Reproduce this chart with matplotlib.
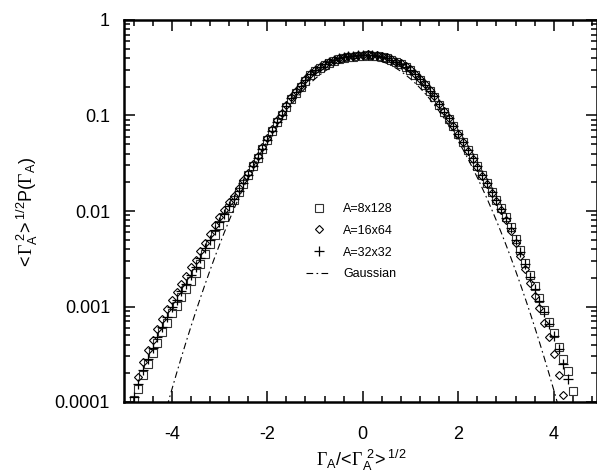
import numpy as np
import matplotlib
matplotlib.use('agg')
import matplotlib.pyplot as plt
from matplotlib.ticker import LogLocator, MultipleLocator, FixedLocator, FixedFormatter

plt.rcParams['font.family'] = 'Liberation Sans'
plt.rcParams['axes.unicode_minus'] = False
plt.rcParams['mathtext.fontset'] = 'custom'
plt.rcParams['mathtext.rm'] = 'Liberation Sans'
plt.rcParams['mathtext.it'] = 'Liberation Sans:italic'
plt.rcParams['mathtext.sf'] = 'Liberation Serif'

# bin centres of the histograms
gamma = np.round(np.arange(-4.8, 4.45, 0.1), 1)

# log10 of the normalised distribution
logp_8x128 = [
    -3.98, -3.86, -3.72, -3.60, -3.49, -3.38, -3.27, -3.17, -3.07, -2.99,
    -2.90, -2.82, -2.73, -2.65, -2.55, -2.45, -2.35, -2.25, -2.15, -2.06,
    -1.97, -1.89, -1.80, -1.72, -1.62, -1.53, -1.44, -1.35, -1.26, -1.16,
    -1.07, -0.99, -0.91, -0.83, -0.76, -0.70, -0.64, -0.58, -0.53, -0.50,
    -0.47, -0.45, -0.43, -0.41, -0.40, -0.39, -0.383, -0.376, -0.372, -0.37,
    -0.373, -0.38, -0.39, -0.40, -0.42, -0.445, -0.465, -0.495, -0.525, -0.575,
    -0.625, -0.685, -0.745, -0.805, -0.885, -0.96, -1.035, -1.11, -1.19, -1.28,
    -1.36, -1.45, -1.53, -1.62, -1.71, -1.80, -1.88, -1.97, -2.06, -2.17,
    -2.29, -2.41, -2.54, -2.67, -2.79, -2.91, -3.04, -3.16, -3.28, -3.42,
    -3.55, -3.68, -3.88]

logp_16x64 = [
    np.nan, -3.74, -3.58, -3.46, -3.35, -3.24, -3.13, -3.03, -2.93, -2.85,
    -2.76, -2.68, -2.59, -2.51, -2.42, -2.33, -2.24, -2.15, -2.06, -1.99,
    -1.91, -1.84, -1.76, -1.68, -1.60, -1.51, -1.42, -1.33, -1.24, -1.14,
    -1.05, -0.97, -0.89, -0.81, -0.74, -0.68, -0.62, -0.57, -0.52, -0.49,
    -0.46, -0.44, -0.42, -0.40, -0.39, -0.38, -0.372, -0.366, -0.362, -0.36,
    -0.363, -0.37, -0.38, -0.39, -0.41, -0.435, -0.455, -0.485, -0.515, -0.565,
    -0.615, -0.675, -0.735, -0.795, -0.875, -0.955, -1.03, -1.11, -1.19, -1.28,
    -1.37, -1.46, -1.54, -1.63, -1.72, -1.81, -1.90, -1.99, -2.09, -2.21,
    -2.34, -2.47, -2.61, -2.75, -2.89, -3.02, -3.17, -3.32, -3.50, -3.72,
    -3.93, np.nan, np.nan]

logp_32x32 = [
    -3.95, -3.81, -3.67, -3.55, -3.43, -3.32, -3.21, -3.11, -3.01, -2.93,
    -2.84, -2.76, -2.67, -2.59, -2.49, -2.39, -2.30, -2.20, -2.11, -2.03,
    -1.95, -1.87, -1.79, -1.71, -1.62, -1.53, -1.44, -1.35, -1.26, -1.16,
    -1.07, -0.99, -0.90, -0.82, -0.75, -0.69, -0.63, -0.57, -0.52, -0.49,
    -0.46, -0.44, -0.42, -0.40, -0.39, -0.38, -0.376, -0.37, -0.366, -0.365,
    -0.368, -0.374, -0.383, -0.395, -0.415, -0.44, -0.46, -0.49, -0.52, -0.57,
    -0.62, -0.68, -0.74, -0.80, -0.88, -0.96, -1.03, -1.11, -1.19, -1.28,
    -1.36, -1.45, -1.53, -1.62, -1.71, -1.80, -1.89, -1.98, -2.07, -2.18,
    -2.30, -2.43, -2.56, -2.69, -2.82, -2.94, -3.06, -3.18, -3.31, -3.45,
    -3.60, -3.76, np.nan]

# unit gaussian, tabulated for x >= 0
gx_half = [0.0, 0.1, 0.2, 0.3, 0.4, 0.5, 0.6, 0.7, 0.8, 0.9, 1.0, 1.1, 1.2, 1.3,
           1.4, 1.5, 1.6, 1.7, 1.8, 1.9, 2.0, 2.1, 2.2, 2.3, 2.4, 2.5, 2.6, 2.7,
           2.8, 2.9, 3.0, 3.1, 3.2, 3.3, 3.4, 3.5, 3.6, 3.7, 3.8, 3.9, 4.0, 4.1]
gy_half = [0.3989, 0.3970, 0.3910, 0.3814, 0.3683, 0.3521, 0.3332, 0.3123,
           0.2897, 0.2661, 0.2420, 0.2179, 0.1942, 0.1714, 0.1497, 0.1295,
           0.1109, 0.0940, 0.0790, 0.0656, 0.0540, 0.0440, 0.0355, 0.0283,
           0.0224, 0.0175, 0.0136, 0.0104, 0.00792, 0.00595, 0.00443, 0.00327,
           0.00238, 0.00172, 0.00123, 0.000873, 0.000612, 0.000425, 0.000292,
           0.000199, 0.000134, 0.0000893]

labels = ['A=8x128', 'A=16x64', 'A=32x32', 'Gaussian']

gauss_x = np.concatenate((-np.array(gx_half[::-1]), np.array(gx_half[1:])))
gauss_y = np.concatenate((np.array(gy_half[::-1]), np.array(gy_half[1:])))

fig = plt.figure(figsize=(5.97, 4.74), dpi=100)
ax = fig.add_axes([124 / 597, 72 / 474, 472.7 / 597, 382 / 474])

ax.plot(gamma, 10 ** np.array(logp_8x128), ls='none', marker='s', ms=6,
        mfc='none', mec='#333333', mew=0.8, label=labels[0])
ax.plot(gamma, 10 ** np.array(logp_16x64), ls='none', marker='D', ms=4.2,
        mfc='none', mec='k', mew=0.8, label=labels[1])
ax.plot(gamma, 10 ** np.array(logp_32x32), ls='none', marker='+', ms=7,
        mec='k', mew=0.9, label=labels[2])
ax.plot(gauss_x, gauss_y, color='k', lw=0.8, dashes=(6, 3, 1.5, 3),
        label=labels[3])

ax.set_yscale('log')
ax.set_xlim(-5, 4.9)
ax.set_ylim(1e-4, 1)

ax.xaxis.set_major_locator(MultipleLocator(2))
ax.xaxis.set_minor_locator(MultipleLocator(0.4))
ax.yaxis.set_major_locator(FixedLocator([1e-4, 1e-3, 1e-2, 1e-1, 1]))
ax.yaxis.set_major_formatter(FixedFormatter(['0.0001', '0.001', '0.01', '0.1', '1']))
ax.yaxis.set_minor_locator(LogLocator(base=10, subs=np.arange(2, 10)))

ax.tick_params(which='both', direction='in', top=True, right=True, width=1.1,
               labelsize=13)
ax.tick_params(which='major', length=8)
ax.tick_params(which='minor', length=4)
ax.tick_params(axis='x', pad=17)
ax.tick_params(axis='y', pad=10)
for sp in ax.spines.values():
    sp.set_linewidth(1.8)

ax.set_xlabel(r'$\mathsf{\Gamma}_{\rm A}/\!<\!\mathsf{\Gamma}_{\rm A}^{\ 2}\!>^{1/2}$',
              fontsize=13, va='center')
ax.xaxis.set_label_coords(0.503, -0.152)
ax.set_ylabel(r'$<\!\mathsf{\Gamma}_{\rm A}^{\ 2}\!>^{1/2}\mathrm{P}(\mathsf{\Gamma}_{\rm A})$',
              fontsize=13, va='center', ha='center')
ax.yaxis.set_label_coords(-0.205, 0.495)

ax.legend(loc='upper left', bbox_to_anchor=(306 / 597, 1 - 203 / 474),
          bbox_transform=fig.transFigure, frameon=False, fontsize=9,
          numpoints=1, handlelength=2.0, handletextpad=0.96, labelspacing=0.78,
          borderpad=0, borderaxespad=0)

fig.savefig('out.png', dpi=100)
